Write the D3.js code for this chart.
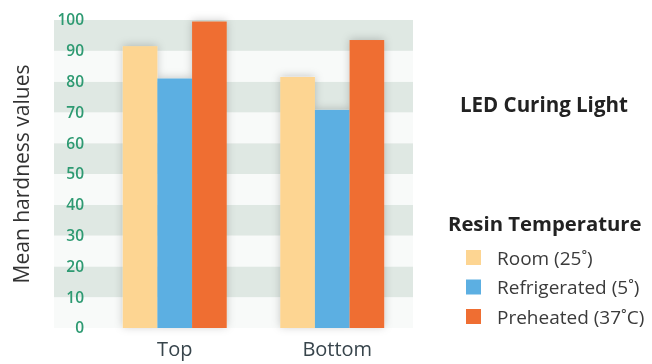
<!DOCTYPE html>
<html><head><meta charset="utf-8">
<script src="https://cdn.jsdelivr.net/npm/d3@7"></script>
<style>
html,body{margin:0;padding:0;background:#fff;}
svg{display:block;font-family:"Open Sans",sans-serif;}
</style></head>
<body><svg id="c" width="652" height="364"></svg>
<script>
const categories = ["Top", "Bottom"];
const seriesNames = ["Room (25˚)", "Refrigerated (5˚)", "Preheated (37˚C)"];
const roomValues = [91.5, 81.5];
const refrigeratedValues = [81, 70.8];
const preheatedValues = [99.5, 93.5];
const yTicks = [0,10,20,30,40,50,60,70,80,90,100];
const colors = ["#fdd592", "#5cafe2", "#ef6e31"];
const yTitle = "Mean hardness values";
const chartTitle = "LED Curing Light";
const legendTitle = "Resin Temperature";

const series = [roomValues, refrigeratedValues, preheatedValues];
const svg = d3.select("#c");

const defs = svg.append("defs");
const sh = defs.append("filter").attr("id","sh").attr("x","-30%").attr("y","-30%").attr("width","160%").attr("height","160%");
sh.append("feDropShadow").attr("dx",0).attr("dy",-1).attr("stdDeviation",4).attr("flood-color","#000").attr("flood-opacity",0.2);
const bl = defs.append("filter").attr("id","bl");
bl.append("feGaussianBlur").attr("stdDeviation",0.45);

const y = d3.scaleLinear().domain([0,100]).range([328, 20]);
const x = d3.scaleBand().domain(categories).range([96, 411]).paddingInner(0.34).paddingOuter(0.17);
const xs = d3.scaleBand().domain(d3.range(series.length)).range([0, x.bandwidth()]);

const root = svg.append("g").attr("filter","url(#bl)");

// striped background
const bands = d3.range(yTicks.length-1).map(i => [yTicks[i], yTicks[i+1]]);
root.append("g").selectAll("rect").data(bands).join("rect")
  .attr("x", 54).attr("width", 413-54)
  .attr("y", d => y(d[1])).attr("height", d => y(d[0]) - y(d[1]))
  .attr("fill", (d,i) => ((bands.length-1-i) % 2 === 0) ? "#dfe8e3" : "#f8faf9");

// y axis labels
const ax = root.append("g").attr("transform","translate(84,0)")
  .call(d3.axisLeft(y).tickValues(yTicks).tickSize(0).tickPadding(0));
ax.select(".domain").remove();
ax.selectAll("text").attr("fill","#2e9a72").style("font-size","15.5px").style("font-weight","600")
  .style("font-family","'Open Sans',sans-serif");

// bars
const g = root.append("g").attr("filter","url(#sh)");
categories.forEach((c, ci) => {
  g.append("g").attr("transform", `translate(${x(c)},0)`)
    .selectAll("rect").data(series.map((s, si) => ({si, v: s[ci]}))).join("rect")
    .attr("x", d => xs(d.si)).attr("width", xs.bandwidth())
    .attr("y", d => y(d.v)).attr("height", d => y(0) - y(d.v))
    .attr("fill", d => colors[d.si]);
});

// x labels
const xa = root.append("g").attr("transform","translate(0,328)")
  .call(d3.axisBottom(x).tickSize(0).tickPadding(0));
xa.select(".domain").remove();
xa.selectAll("text").attr("dy", null).attr("y", 28).attr("fill","#37444c")
  .style("font-size","20px").style("font-family","'Open Sans',sans-serif");
xa.selectAll(".tick").filter(d => d === "Bottom").select("text").attr("x", 5);

// y title
root.append("text").attr("transform","translate(29,174) rotate(-90)")
  .attr("text-anchor","middle").attr("fill","#333")
  .style("font-size","21px").text(yTitle);

// chart title
root.append("text").attr("x",460).attr("y",112).attr("fill","#222")
  .style("font-size","20.5px").style("font-weight","700").text(chartTitle);

// legend
root.append("text").attr("x",448).attr("y",231).attr("fill","#222")
  .style("font-size","20.3px").style("font-weight","700").text(legendTitle);
const lg = root.append("g").selectAll("g").data(seriesNames).join("g")
  .attr("transform", (d,i) => `translate(466,${250 + i*29.5})`);
lg.append("rect").attr("width",15).attr("height",15).attr("fill",(d,i)=>colors[i]);
lg.append("text").attr("x",31).attr("y",14.5).attr("fill","#3a3a3a")
  .style("font-size","19px").text(d => d);
</script></body></html>
